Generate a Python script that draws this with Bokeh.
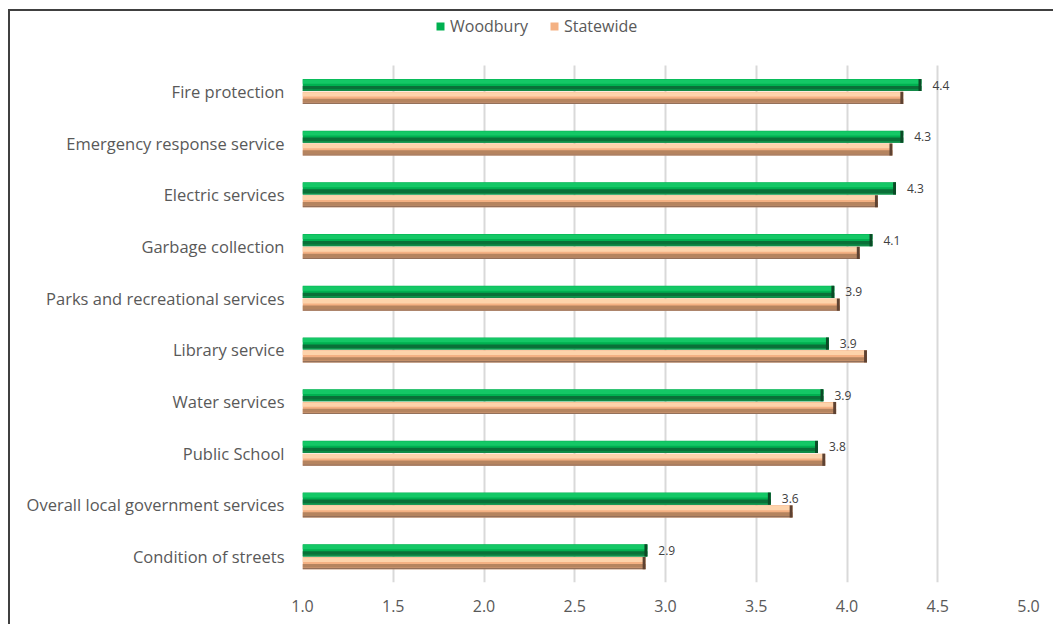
from bokeh.plotting import figure
from bokeh.models import (Range1d, FixedTicker, LabelSet, ColumnDataSource,
                          Legend, LegendItem, NumeralTickFormatter)
from bokeh.core.properties import value
from bokeh.transform import dodge
from bokeh.embed import file_html
from bokeh.resources import INLINE

categories = ["Fire protection", "Emergency response service", "Electric services",
              "Garbage collection", "Parks and recreational services", "Library service",
              "Water services", "Public School", "Overall local government services",
              "Condition of streets"]
woodbury = [4.41, 4.31, 4.27, 4.14, 3.93, 3.90, 3.87, 3.84, 3.58, 2.90]
statewide = [4.31, 4.25, 4.17, 4.07, 3.96, 4.11, 3.94, 3.88, 3.70, 2.89]
x_ticks = [1.0, 1.5, 2.0, 2.5, 3.0, 3.5, 4.0, 4.5, 5.0]
series_names = ["Woodbury", "Statewide"]

FONT = "Open Sans"
n = len(categories)
ypos = [n - 1 - i for i in range(n)]   # first category on top
src = ColumnDataSource(dict(
    pos=ypos,
    w=woodbury,
    s=statewide,
    w_cap=[v - 0.016 for v in woodbury],
    s_cap=[v - 0.016 for v in statewide],
    wlab=[f"{v:.1f}" for v in woodbury],
))

W, H = 1045, 615
MB_L, MB_R, MB_T, MB_B = 292, 27, 0, 44
frame_h = H - MB_T - MB_B
top_extra = 54 / 51.7   # room above the categories for the legend

p = figure(width=W, height=H, output_backend="svg", toolbar_location=None,
           y_range=Range1d(-0.5, n - 0.5 + top_extra),
           x_range=Range1d(1.0, 5.0),
           min_border_left=MB_L, min_border_right=MB_R, min_border_top=MB_T,
           min_border_bottom=MB_B)
p.styles = {"border-left": "2px solid #404040", "border-top": "2px solid #404040",
            "margin-left": "8px", "margin-top": "9px"}
p.outline_line_color = None
p.background_fill_color = "white"
p.border_fill_color = "white"

h = 0.235
go = 0.122
so = -0.125

def layers(val, cap, off, base, top, dark, edge, capc):
    rs = []
    rs.append(p.hbar(y=dodge("pos", off), left=1.0, right=val, height=h,
                     source=src, fill_color=base, line_color=None))
    rs.append(p.hbar(y=dodge("pos", off + h * 0.28), left=1.0, right=val, height=h * 0.36,
                     source=src, fill_color=top, line_color=None))
    rs.append(p.hbar(y=dodge("pos", off - h * 0.22), left=1.0, right=val, height=h * 0.3,
                     source=src, fill_color=dark, line_color=None))
    rs.append(p.hbar(y=dodge("pos", off - h * 0.44), left=1.0, right=val, height=h * 0.12,
                     source=src, fill_color=edge, line_color=None))
    rs.append(p.hbar(y=dodge("pos", off), left=cap, right=val, height=h,
                     source=src, fill_color=capc, line_color=None))
    return rs

g = layers("w", "w_cap", go, "#00b050", "#14c866", "#0a7038", "#138a48", "#0b4a26")
o = layers("s", "s_cap", so, "#f4b183", "#fdd3ab", "#b5845f", "#94705a", "#5e4232")

labels = LabelSet(x="w", y=dodge("pos", go), text="wlab", source=src,
                  x_offset=11, text_baseline="middle", text_align="left",
                  text_font_size="12px", text_color="#404040", text_font=value(FONT))
p.add_layout(labels)

p.xaxis.ticker = FixedTicker(ticks=x_ticks)
p.xaxis.formatter = NumeralTickFormatter(format="0.0")
p.xaxis.axis_line_color = None
p.xaxis.major_tick_line_color = None
p.xaxis.minor_tick_line_color = None
p.xaxis.major_label_standoff = 11
p.xaxis.major_label_text_font_size = "16px"
p.xaxis.major_label_text_color = "#595959"
p.xaxis.major_label_text_font = FONT

p.yaxis.ticker = FixedTicker(ticks=ypos)
p.yaxis.major_label_overrides = {pos: name for pos, name in zip(ypos, categories)}
p.yaxis.axis_line_color = None
p.yaxis.major_tick_line_color = None
p.yaxis.minor_tick_line_color = None
p.yaxis.major_tick_out = 0
p.yaxis.major_tick_in = 0
p.yaxis.major_label_standoff = 18
p.yaxis.major_label_text_font_size = "16.5px"
p.yaxis.major_label_text_color = "#595959"
p.yaxis.major_label_text_font = FONT

p.xgrid.grid_line_color = "#d9d9d9"
p.xgrid.grid_line_width = 2
p.xgrid.cross_bounds = (-0.5, n - 0.5)
p.ygrid.grid_line_color = None

legend = Legend(items=[LegendItem(label=series_names[0], renderers=[g[0]]),
                       LegendItem(label=series_names[1], renderers=[o[0]])],
                location=(133, frame_h - 17 - 9), orientation="horizontal",
                glyph_width=10, glyph_height=10, label_height=18, label_standoff=5, spacing=21,
                padding=0, margin=0, border_line_alpha=0, background_fill_alpha=0,
                label_text_font_size="16px", label_text_color="#595959", label_text_font=FONT)
p.add_layout(legend)

open("out.html", "w").write(file_html(p, INLINE))
